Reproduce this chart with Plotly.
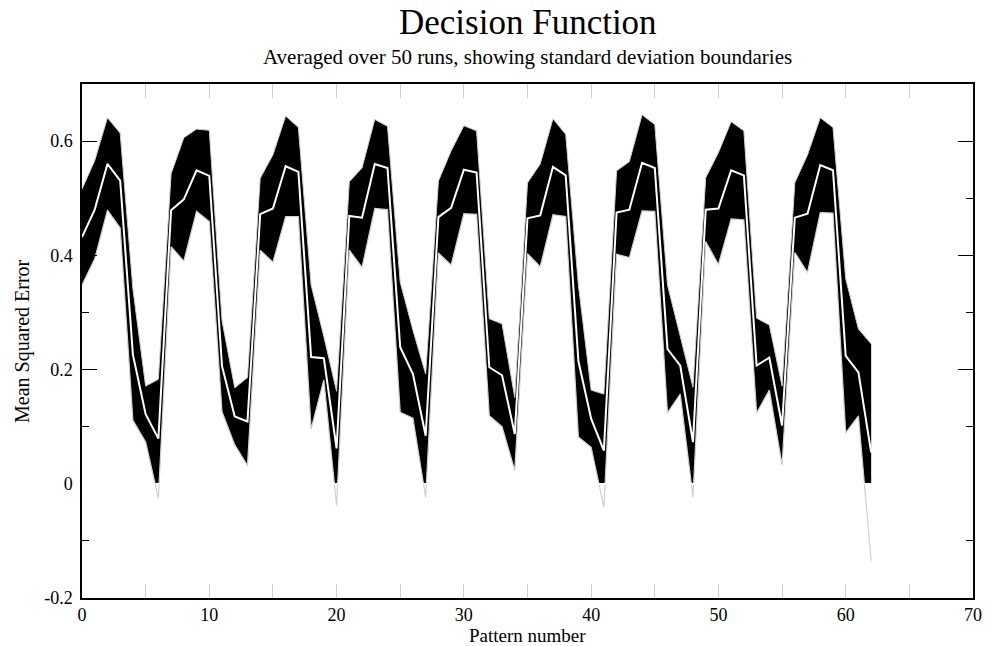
import plotly.graph_objects as go

pattern = list(range(63))
mean_mse = [0.432, 0.480, 0.560, 0.531, 0.226, 0.122, 0.079,
            0.479, 0.498, 0.549, 0.539, 0.206, 0.118, 0.109,
            0.472, 0.482, 0.556, 0.546, 0.222, 0.220, 0.062,
            0.469, 0.466, 0.560, 0.553, 0.239, 0.192, 0.084,
            0.467, 0.483, 0.550, 0.545, 0.204, 0.190, 0.087,
            0.465, 0.470, 0.555, 0.540, 0.215, 0.114, 0.058,
            0.475, 0.480, 0.562, 0.553, 0.236, 0.207, 0.073,
            0.480, 0.482, 0.549, 0.540, 0.207, 0.221, 0.102,
            0.466, 0.473, 0.558, 0.549, 0.224, 0.195, 0.055]
std_mse = [0.084, 0.086, 0.081, 0.083, 0.115, 0.049, 0.104,
           0.064, 0.108, 0.072, 0.080, 0.080, 0.050, 0.077,
           0.063, 0.094, 0.088, 0.078, 0.126, 0.038, 0.100,
           0.060, 0.087, 0.078, 0.073, 0.114, 0.077, 0.108,
           0.063, 0.100, 0.077, 0.073, 0.085, 0.090, 0.064,
           0.062, 0.090, 0.084, 0.072, 0.133, 0.050, 0.099,
           0.073, 0.084, 0.084, 0.076, 0.112, 0.050, 0.096,
           0.056, 0.098, 0.085, 0.078, 0.083, 0.057, 0.069,
           0.061, 0.103, 0.083, 0.075, 0.135, 0.076, 0.190]

upper = [m + s for m, s in zip(mean_mse, std_mse)]
lower = [m - s for m, s in zip(mean_mse, std_mse)]

y_tick_vals = [-0.2, 0, 0.2, 0.4, 0.6]
y_tick_text = ["-0.2", "0", "0.2", "0.4", "0.6"]
x_tick_vals = [0, 10, 20, 30, 40, 50, 60, 70]
x_tick_text = ["0", "10", "20", "30", "40", "50", "60", "70"]

FONT = "Liberation Serif, Times New Roman, serif"
GRAY = "#d0d0d0"

fig = go.Figure()
fig.add_trace(go.Scatter(x=pattern, y=upper, mode="lines",
                         line=dict(color=GRAY, width=1),
                         fill="tozeroy", fillcolor="black",
                         hoverinfo="skip", showlegend=False))
fig.add_trace(go.Scatter(x=pattern, y=lower, mode="lines",
                         line=dict(color=GRAY, width=1.2),
                         fill="tozeroy", fillcolor="white",
                         hoverinfo="skip", showlegend=False))
fig.add_trace(go.Scatter(x=pattern, y=mean_mse, mode="lines",
                         line=dict(color="white", width=2),
                         showlegend=False))

# hide the anti-aliasing seam left where the two fills meet at zero
fig.add_hline(y=0, line=dict(color="white", width=1.5), layer="above")

fig.update_layout(
    width=994, height=646,
    margin=dict(l=82, r=15, t=84, b=48),
    paper_bgcolor="white", plot_bgcolor="white",
    font=dict(family=FONT, size=18, color="black"),
    showlegend=False,
    xaxis=dict(range=[0, 70], tickvals=x_tick_vals, ticktext=x_tick_text,
               ticks="inside", ticklen=14, tickcolor=GRAY, tickwidth=1,
               minor=dict(tickvals=[5, 15, 25, 35, 45, 55, 65], ticks="inside",
                          ticklen=14, tickcolor=GRAY, tickwidth=1),
               showline=True, linecolor="black", linewidth=1.5, mirror="ticks",
               showgrid=False, zeroline=False, ticklabelstandoff=0,
               tickfont=dict(family=FONT, size=18)),
    yaxis=dict(range=[-0.2, 0.7], tickvals=y_tick_vals, ticktext=y_tick_text,
               ticks="inside", ticklen=15, tickcolor="black", tickwidth=1,
               minor=dict(dtick=0.1, tick0=0, ticks="inside", ticklen=7,
                          tickcolor="black", tickwidth=1),
               showline=True, linecolor="black", linewidth=1.5, mirror="ticks",
               showgrid=False, zeroline=False, ticklabelstandoff=4,
               tickfont=dict(family=FONT, size=18)),
    annotations=[
        dict(text="Decision Function", xref="paper", yref="paper", x=0.5, y=1,
             yanchor="middle", yshift=62, showarrow=False,
             font=dict(family=FONT, size=35)),
        dict(text="Averaged over 50 runs, showing standard deviation boundaries",
             xref="paper", yref="paper", x=0.5, y=1, yanchor="middle", yshift=27,
             showarrow=False, font=dict(family=FONT, size=21)),
        dict(text="Mean Squared Error", xref="paper", yref="paper", x=0, y=0.5,
             xanchor="center", yanchor="middle", xshift=-60, textangle=-90,
             showarrow=False, font=dict(family=FONT, size=20)),
        dict(text="Pattern number", xref="paper", yref="paper", x=0.5, y=0,
             yanchor="middle", yshift=-37, showarrow=False,
             font=dict(family=FONT, size=19)),
    ],
)

fig.write_html("out.html")
